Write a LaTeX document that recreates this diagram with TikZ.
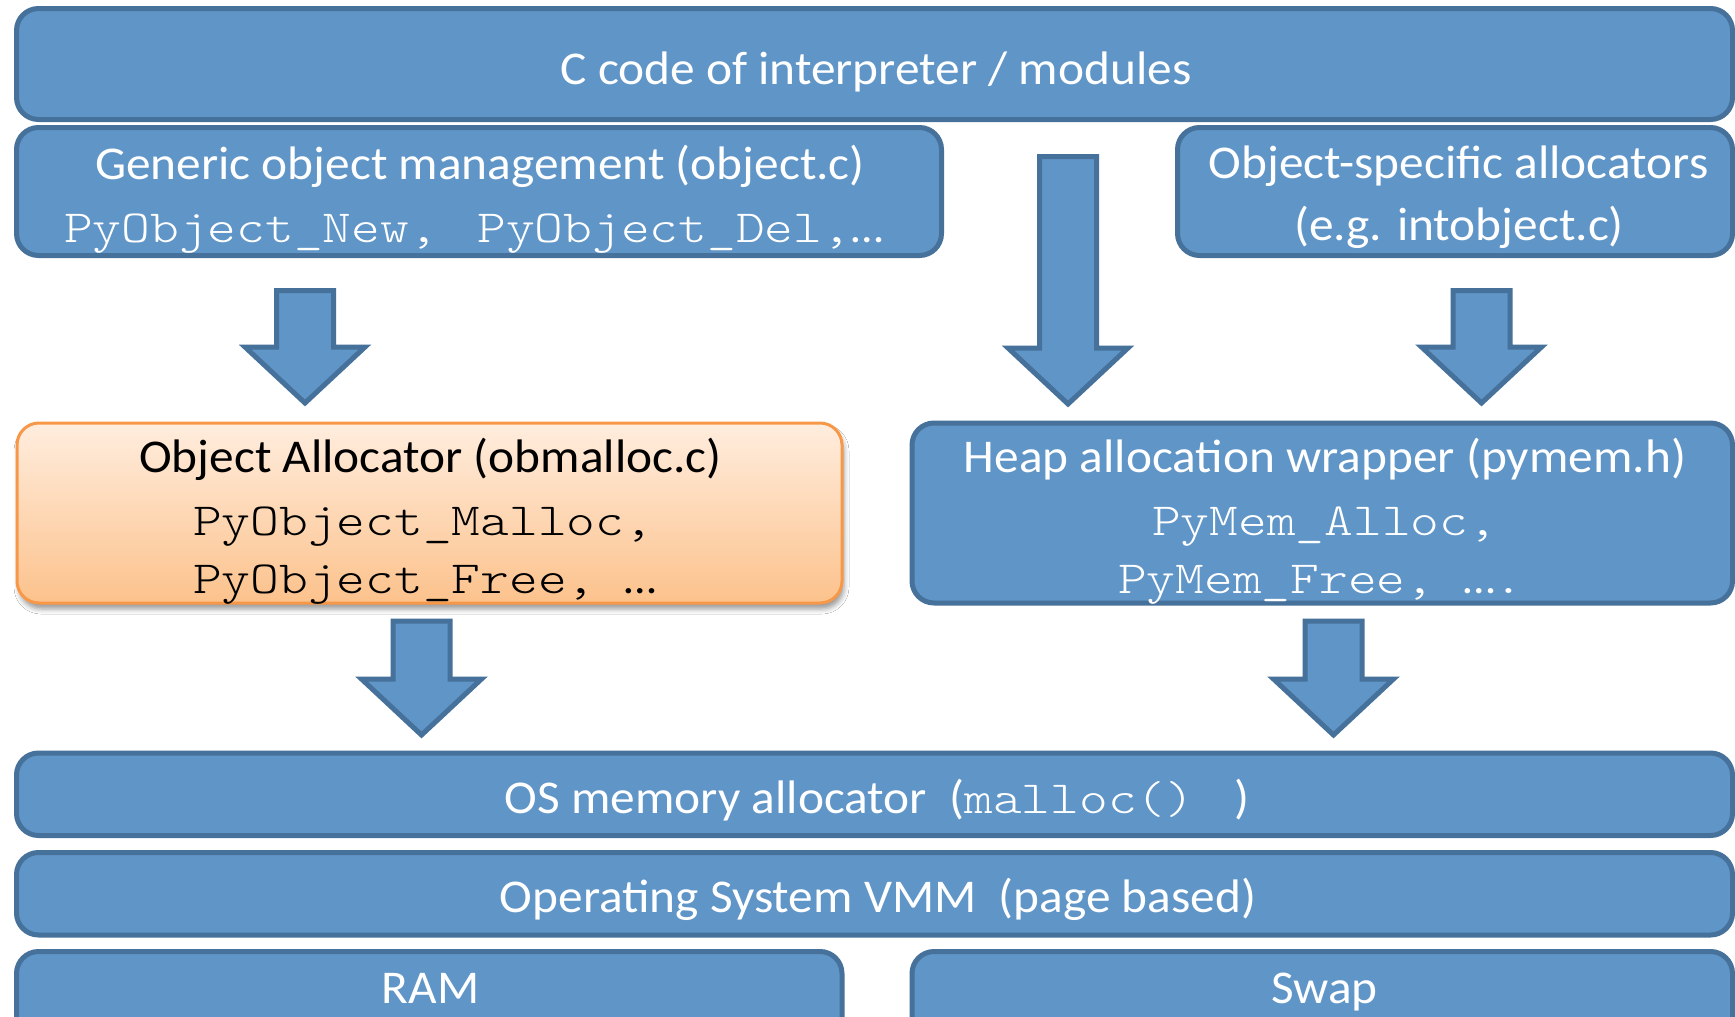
\documentclass[tikz,border=0pt]{standalone}
\usepackage{fontspec}
\setmainfont{Carlito}[FakeStretch=1.05]
\newfontfamily\codefont{lmmonolt10-regular.otf}[FakeStretch=1.19]
\usetikzlibrary{shadows.blur}

\definecolor{boxfill}{RGB}{96,149,199}
\definecolor{boxline}{RGB}{70,113,155}
\definecolor{orangeline}{RGB}{247,152,72}
\definecolor{orangetop}{RGB}{255,237,222}
\definecolor{orangebottom}{RGB}{252,194,140}

\newcommand{\sansdots}{{\rmfamily\fontsize{44}{53}\selectfont …}}

\tikzset{
  bluebox/.style={draw=boxline, fill=boxfill, line width=5pt,
    rounded corners=22pt, inner sep=0pt, outer sep=0pt},
  orangebox/.style={draw=orangeline, line width=3pt, rounded corners=22pt,
    inner sep=0pt, outer sep=0pt, top color=orangetop, bottom color=orangebottom,
    blur shadow={shadow xshift=2pt, shadow yshift=-6pt,
      shadow blur radius=5pt, shadow opacity=40}},
  labeltext/.style={text=white, font=\fontsize{47}{56}\selectfont,
    inner sep=0pt, anchor=base},
  codetext/.style={text=white, font=\codefont\fontsize{46}{55}\selectfont,
    inner sep=0pt, anchor=base},
  arrowshape/.style={draw=boxline, fill=boxfill, line width=5pt},
  pics/downarrow/.style={code={
    \draw[arrowshape] (-28.5,0) -- (28.5,0) -- (28.5,#1-56) -- (60,#1-56)
      -- (0,#1) -- (-60,#1-56) -- (-28.5,#1-56) -- cycle;}}
}

\begin{document}
\begin{tikzpicture}[x=1pt,y=-1pt]
\useasboundingbox (0,0) rectangle (1735,1017);
\clip (0,0) rectangle (1735,1017);
\fill[white] (0,0) rectangle (1735,1017);

% layer boxes
\node[bluebox, minimum width=1716, minimum height=111] (ccode) at (874.5,64) {};
\node[bluebox, minimum width=925, minimum height=128] (generic) at (479,191.5) {};
\node[bluebox, minimum width=555, minimum height=128] (objspec) at (1455,191.5) {};
\node[orangebox, minimum width=825, minimum height=180] (obmalloc) at (429.5,513) {};
\node[bluebox, minimum width=820.5, minimum height=180] (pymem) at (1322.25,513) {};
\node[bluebox, minimum width=1716, minimum height=82.5] (osmalloc) at (874.5,794.25) {};
\node[bluebox, minimum width=1716, minimum height=82.5] (vmm) at (874.5,893.75) {};
\node[bluebox, minimum width=825.5, minimum height=90] (ram) at (429.25,996.5) {};
\node[bluebox, minimum width=820.5, minimum height=90] (swap) at (1322.25,996.5) {};

% texts
\node[labeltext] (ccodetxt) at (876,84) {C code of interpreter / modules};
\node[labeltext] (generictxt) at (480,179) {Generic object management (object.c)};
\node[codetext, anchor=base west] (genericcode) at (64,242)
  {PyObject\_New,\ {\rmfamily\ }PyObject\_Del,\sansdots};
\node[labeltext] (objspectxt) at (1458.5,178) {Object-specific allocators};
\node[labeltext] (objspecex) at (1459,240) {(e.g. intobject.c)};

\node[labeltext, text=black] (obmtxt) at (430.5,472) {Object Allocator (obmalloc.c)};
\node[codetext, text=black, anchor=base west] (obmcodea) at (193,535) {PyObject\_Malloc,};
\node[codetext, text=black, anchor=base west] (obmcodeb) at (193,593) {PyObject\_Free,\ \sansdots};

\node[labeltext] (pymemtxt) at (1325,472) {Heap allocation wrapper (pymem.h)};
\node[codetext, anchor=base west] (pymemcodea) at (1152,535) {PyMem\_Alloc,};
\node[codetext, anchor=base west] (pymemcodeb) at (1118,593) {PyMem\_Free,\ \sansdots.};

\node[labeltext] (osmtxt) at (877,813)
  {OS memory allocator\ \ ({\codefont\fontsize{46}{55}\selectfont malloc()\ }\ )};
\node[labeltext] (vmmtxt) at (878,912) {Operating System VMM\ \ (page based)};
\node[labeltext] (ramtxt) at (430.5,1003) {RAM};
\node[labeltext] (swaptxt) at (1324.5,1003) {Swap};

% block arrows between the layers
\coordinate (genout) at (305,290.5);
\coordinate (ccodeout) at (1068,156.5);
\coordinate (objspecout) at (1481.5,290.5);
\coordinate (obmout) at (421.5,621);
\coordinate (pymemout) at (1333.5,621);
\pic at (genout) {downarrow=112.5};
\pic at (ccodeout) {downarrow=247.5};
\pic at (objspecout) {downarrow=112.5};
\pic at (obmout) {downarrow=114};
\pic at (pymemout) {downarrow=114};
\end{tikzpicture}
\end{document}
